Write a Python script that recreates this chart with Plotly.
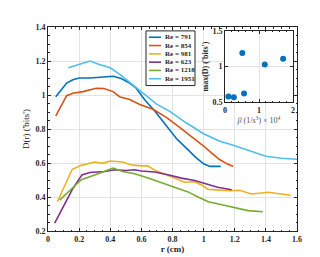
import plotly.graph_objects as go

# ---------------- data ----------------
re_labels = ["Re = 791", "Re = 854", "Re = 981", "Re = 623", "Re = 1218", "Re = 1951"]
colors = ["#0072BD", "#D95319", "#EDB120", "#7E2F8E", "#77AC30", "#4DBEEE"]

r_791 = [0.05, 0.12, 0.16, 0.2, 0.27, 0.35, 0.42, 0.47, 0.525, 0.567, 0.62, 0.686, 0.76, 0.825, 0.89, 0.953, 1.0, 1.04, 1.08, 1.11]
D_791 = [0.99, 1.07, 1.09, 1.10, 1.10, 1.107, 1.11, 1.097, 1.07, 1.04, 0.973, 0.906, 0.82, 0.744, 0.686, 0.63, 0.595, 0.58, 0.58, 0.58]

r_854 = [0.05, 0.12, 0.16, 0.225, 0.31, 0.36, 0.418, 0.46, 0.525, 0.59, 0.675, 0.76, 0.846, 0.93, 1.0, 1.05, 1.1, 1.15, 1.19]
D_854 = [0.877, 0.996, 1.01, 1.02, 1.04, 1.038, 1.02, 0.99, 0.973, 0.944, 0.916, 0.868, 0.81, 0.753, 0.70, 0.66, 0.622, 0.595, 0.58]

r_981 = [0.06, 0.107, 0.156, 0.214, 0.30, 0.35, 0.40, 0.48, 0.53, 0.6, 0.64, 0.686, 0.77, 0.878, 0.94, 0.985, 1.03, 1.09, 1.17, 1.23, 1.307, 1.414, 1.5, 1.56]
D_981 = [0.372, 0.47, 0.563, 0.586, 0.606, 0.598, 0.612, 0.606, 0.59, 0.583, 0.583, 0.558, 0.528, 0.487, 0.49, 0.472, 0.445, 0.44, 0.437, 0.44, 0.418, 0.428, 0.42, 0.41]

r_623 = [0.043, 0.096, 0.16, 0.218, 0.268, 0.364, 0.43, 0.5, 0.557, 0.6, 0.686, 0.77, 0.857, 0.943, 1.017, 1.06, 1.09, 1.18]
D_623 = [0.247, 0.343, 0.45, 0.53, 0.544, 0.55, 0.56, 0.556, 0.56, 0.553, 0.547, 0.531, 0.511, 0.497, 0.477, 0.462, 0.457, 0.443]

r_1218 = [0.075, 0.15, 0.214, 0.30, 0.418, 0.48, 0.557, 0.643, 0.77, 0.9, 0.964, 1.03, 1.11, 1.2, 1.285, 1.38]
D_1218 = [0.382, 0.45, 0.502, 0.529, 0.57, 0.55, 0.537, 0.512, 0.47, 0.43, 0.40, 0.372, 0.356, 0.337, 0.32, 0.313]

r_1951 = [0.13, 0.2, 0.27, 0.33, 0.4, 0.47, 0.55, 0.62, 0.7, 0.78, 0.89, 1.0, 1.1, 1.18, 1.28, 1.4, 1.5, 1.6]
D_1951 = [1.16, 1.18, 1.20, 1.18, 1.16, 1.115, 1.055, 1.0, 0.945, 0.905, 0.835, 0.772, 0.73, 0.707, 0.678, 0.64, 0.628, 0.622]

beta_1e4 = [0.1, 0.26, 0.56, 0.51, 1.17, 1.71]
max_D = [0.58, 0.57, 0.62, 1.19, 1.03, 1.11]

x_ticks = [0, 0.2, 0.4, 0.6, 0.8, 1, 1.2, 1.4, 1.6]
y_ticks = [0.2, 0.4, 0.6, 0.8, 1, 1.2, 1.4]
inset_x_ticks = [0, 1, 2]
inset_y_ticks = [0.5, 1, 1.5]

series_r = [r_791, r_854, r_981, r_623, r_1218, r_1951]
series_D = [D_791, D_854, D_981, D_623, D_1218, D_1951]

# ---------------- figure ----------------
FONT = "Liberation Serif"
AX = "#262626"
GRID = "#e3e3e3"

fig = go.Figure()
for r, d, name, c in zip(series_r, series_D, re_labels, colors):
    fig.add_trace(go.Scatter(x=r, y=d, mode="lines", name=name,
                             line=dict(color=c, width=1.6), showlegend=False,
                             xaxis="x", yaxis="y"))

fig.add_trace(go.Scatter(x=beta_1e4, y=max_D, mode="markers",
                         marker=dict(color="#0072BD", size=6),
                         showlegend=False, xaxis="x2", yaxis="y2"))

W, H = 320, 257
L, R, T, B = 40, 31, 19, 29
pw, ph = W - L - R, H - T - B


def px_x(px):
    return (px - L) / pw


def px_y(py):
    return (H - B - py) / ph


axis_common = dict(showline=True, linecolor=AX, linewidth=1, mirror="allticks",
                   ticks="inside", ticklen=3, tickcolor=AX, showgrid=True,
                   gridcolor=GRID, gridwidth=1, zeroline=False,
                   tickfont=dict(family=FONT, size=8, color=AX))

fig.update_layout(
    width=W, height=H,
    margin=dict(l=L, r=R, t=T, b=B),
    paper_bgcolor="white", plot_bgcolor="white",
    font=dict(family=FONT, color=AX),
    xaxis=dict(domain=[0, 1], range=[0, 1.6], tickvals=x_ticks, ticktext=[f"<b>{v:g}</b>" for v in x_ticks],
               minor=dict(ticks="inside", ticklen=1.5, dtick=0.05, tickcolor=AX, showgrid=False),
               title=dict(text="<b>r (cm)</b>", font=dict(family=FONT, size=9, color=AX), standoff=3),
               **axis_common),
    yaxis=dict(domain=[0, 1], range=[0.2, 1.4], tickvals=y_ticks, ticktext=[f"<b>{v:g}</b>" for v in y_ticks],
               minor=dict(ticks="inside", ticklen=1.5, dtick=0.05, tickcolor=AX, showgrid=False),
               title=dict(text="D(r) ('bits')", font=dict(family=FONT, size=9, color=AX), standoff=4),
               **axis_common),
    xaxis2=dict(domain=[px_x(217), px_x(285)], anchor="y2", range=[0, 2], tickvals=inset_x_ticks,
                ticktext=[f"<b>{v:g}</b>" for v in inset_x_ticks],
                minor=dict(ticks="inside", ticklen=1.5, dtick=0.2, tickcolor=AX, showgrid=False),
                title=dict(text="<i>β</i> (1/s<sup>3</sup>) × 10<sup>4</sup>",
                           font=dict(family=FONT, size=8, color="#555"), standoff=2),
                **axis_common),
    yaxis2=dict(domain=[px_y(96), px_y(23)], anchor="x2", range=[0.5, 1.5], tickvals=inset_y_ticks,
                ticktext=[f"<b>{v:g}</b>" for v in inset_y_ticks],
                title=dict(text="<b>max(D) ('bits')</b>", font=dict(family=FONT, size=8, color=AX), standoff=2),
                **axis_common),
)

# white background for inset
fig.add_shape(type="rect", xref="paper", yref="paper",
              x0=px_x(217), x1=px_x(285), y0=px_y(96), y1=px_y(23),
              fillcolor="white", line=dict(width=0), layer="below")

# manual legend box (compact, as in the reference)
fig.add_shape(type="rect", xref="paper", yref="paper",
              x0=px_x(138), x1=px_x(187), y0=px_y(79), y1=px_y(23),
              fillcolor="white", line=dict(color=AX, width=1))
row0, step = 29.5, 8.5
for i, (name, c) in enumerate(zip(re_labels, colors)):
    yy = px_y(row0 + step * i)
    fig.add_shape(type="line", xref="paper", yref="paper",
                  x0=px_x(141), x1=px_x(153), y0=yy, y1=yy,
                  line=dict(color=c, width=1.6))
    fig.add_annotation(xref="paper", yref="paper", x=px_x(154.5), y=yy,
                       text=f"<b>{name}</b>", showarrow=False, xanchor="left", yanchor="middle",
                       font=dict(family=FONT, size=7, color=AX))

fig.write_html("out.html")
